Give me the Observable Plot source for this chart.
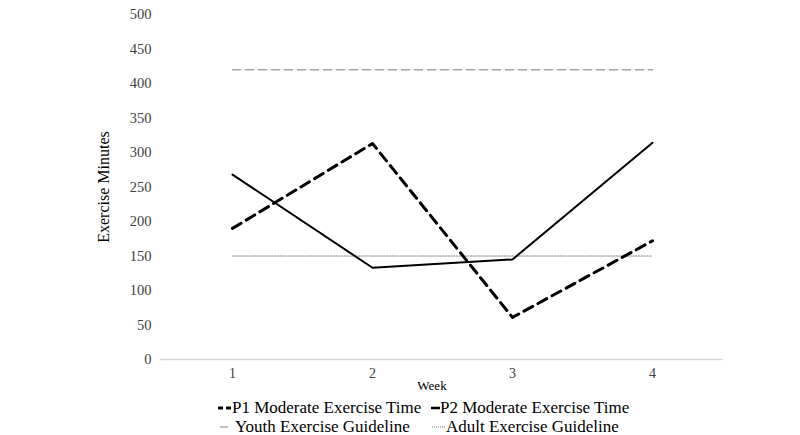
<!DOCTYPE html>
<html>
<head>
<meta charset="utf-8">
<script src="https://cdn.jsdelivr.net/npm/d3@7"></script>
<script src="https://cdn.jsdelivr.net/npm/@observablehq/plot@0.6"></script>
<style>
  html, body { margin: 0; padding: 0; background: #fff; }
  body { width: 800px; height: 435px; overflow: hidden; font-family: "Liberation Serif", "DejaVu Serif", serif; }
  #chart svg { display: block; }
  #legend { position: relative; height: 40px; font-size: 17px; color: #000; }
  .item { position: absolute; white-space: nowrap; height: 14px; }
  .item svg { position: absolute; top: 1px; }
  .item span { position: absolute; top: 0; line-height: 14px; }
  svg text { font-family: "Liberation Serif", serif !important; }
</style>
</head>
<body>
<div id="chart"></div>
<div id="legend"></div>
<script>
const weeks = [1, 2, 3, 4];
const p1Minutes = [190, 313, 61, 172];
const p2Minutes = [268, 133, 145, 314];
const youthGuideline = 420;
const adultGuideline = 150;
const yTicks = [0, 50, 100, 150, 200, 250, 300, 350, 400, 450, 500];

const p1 = weeks.map((w, i) => ({week: w, minutes: p1Minutes[i]}));
const p2 = weeks.map((w, i) => ({week: w, minutes: p2Minutes[i]}));
const youth = weeks.map(w => ({week: w, minutes: youthGuideline}));
const adult = weeks.map(w => ({week: w, minutes: adultGuideline}));

const chart = Plot.plot({
  width: 800,
  height: 395,
  marginLeft: 160,
  marginRight: 77,
  marginTop: 14,
  marginBottom: 36,
  style: {fontFamily: "Liberation Serif", fontSize: "14px", color: "#404040", background: "#fff"},
  x: {type: "point", domain: weeks, padding: 0.5},
  y: {domain: [0, 500]},
  marks: [
    Plot.ruleY([0], {stroke: "#d9d9d9", strokeWidth: 1.5}),
    Plot.axisY({ticks: yTicks, tickSize: 0, tickPadding: 9, label: "Exercise Minutes", labelArrow: "none", labelAnchor: "center", labelOffset: 63, fontSize: 14.5, fontFamily: "Liberation Serif", fill: "#404040"}),
    Plot.axisX({tickSize: 0, tickPadding: 9, label: "Week", labelArrow: "none", labelAnchor: "center", labelOffset: 30, fontSize: 14, fontFamily: "Liberation Serif", fill: "#404040"}),
    Plot.line(youth, {x: "week", y: "minutes", stroke: "#a6a6a6", strokeWidth: 1.5, strokeDasharray: "8,5"}),
    Plot.line(adult, {x: "week", y: "minutes", stroke: "#7f7f7f", strokeWidth: 1.2, strokeDasharray: "1.2,1.6"}),
    Plot.line(p1, {x: "week", y: "minutes", stroke: "#000", strokeWidth: 3, strokeDasharray: "10,6"}),
    Plot.line(p2, {x: "week", y: "minutes", stroke: "#000", strokeWidth: 2})
  ]
});
document.getElementById("chart").appendChild(chart);

// style axis labels
chart.querySelectorAll('[aria-label="y-axis label"] text, [aria-label="x-axis label"] text').forEach(t => {
  t.setAttribute("fill", "#000");
  t.textContent = t.textContent.replace(/[\u2191\u2192\u2190\u2193]/g, "").trim();
});
const yl = chart.querySelector('[aria-label="y-axis label"] text');
if (yl) yl.style.fontSize = "16px";
const xlg = chart.querySelector('[aria-label="x-axis label"]');
if (xlg) xlg.setAttribute("transform", (xlg.getAttribute("transform") || "") + " translate(-10,0)");
const xl = chart.querySelector('[aria-label="x-axis label"] text');
if (xl) xl.style.fontSize = "13px";

const legendItems = [
  {label: "P1 Moderate Exercise Time", stroke: "#000", width: 3, dash: "5,3", left: 218, sw: 14, textLeft: 232, top: 6},
  {label: "P2 Moderate Exercise Time", stroke: "#000", width: 2.5, dash: null, left: 431, sw: 9, textLeft: 440, top: 6},
  {label: "Youth Exercise Guideline", stroke: "#a6a6a6", width: 1.5, dash: null, left: 220, sw: 8, textLeft: 235, top: 25},
  {label: "Adult Exercise Guideline", stroke: "#7f7f7f", width: 1, dash: "1,1", left: 432, sw: 14, textLeft: 446, top: 25}
];
const legend = d3.select("#legend");
legendItems.forEach(d => {
  const it = legend.append("div").attr("class", "item").style("left", "0px").style("top", d.top + "px");
  const s = it.append("svg").attr("width", d.sw).attr("height", 12).style("left", d.left + "px");
  s.append("line").attr("x1", 0).attr("x2", d.sw).attr("y1", 6).attr("y2", 6)
    .attr("stroke", d.stroke).attr("stroke-width", d.width)
    .attr("stroke-dasharray", d.dash);
  it.append("span").style("left", d.textLeft + "px").text(d.label);
});
</script>
</body>
</html>
